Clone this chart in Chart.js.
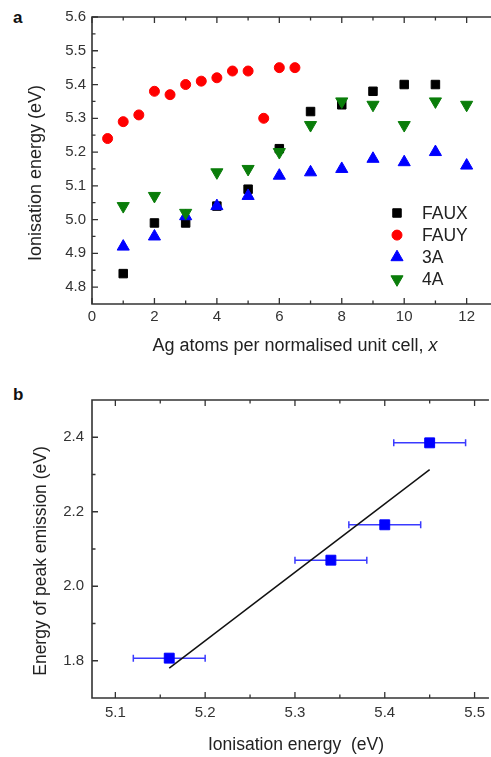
<!DOCTYPE html>
<html lang="en">
<head>
<meta charset="UTF-8">
<title>Ionisation energy</title>
<script src="https://cdn.jsdelivr.net/npm/chart.js@4.4.1/dist/chart.umd.min.js"></script>
<style>
  body { margin: 0; background: #fff; font-family: "Liberation Sans", Arial, sans-serif; }
  .page { position: relative; width: 491px; height: 757px; overflow: hidden; }
  canvas { position: absolute; left: 0; }
  #chartA { top: 0; }
  #chartB { top: 380px; }
  .tag { position: absolute; left: 13px; font-weight: bold; font-size: 17px; line-height: 17px; color: #111; }
</style>
</head>
<body>
<div class="page">
  <div class="tag" style="top:9px">a</div>
  <canvas id="chartA" width="491" height="370"></canvas>
  <div class="tag" style="top:386px">b</div>
  <canvas id="chartB" width="491" height="377"></canvas>
</div>
<script>
// panel a: ionisation energy vs Ag atoms per unit cell
const fauxX = [1, 2, 3, 4, 5, 6, 7, 8, 9, 10, 11];
const fauxIE = [4.84, 4.99, 4.99, 5.04, 5.09, 5.21, 5.32, 5.34, 5.38, 5.40, 5.40];
const fauyX = [0.5, 1, 1.5, 2, 2.5, 3, 3.5, 4, 4.5, 5, 5.5, 6, 6.5];
const fauyIE = [5.24, 5.29, 5.31, 5.38, 5.37, 5.40, 5.41, 5.42, 5.44, 5.44, 5.30, 5.45, 5.45];
const a3X = [1, 2, 3, 4, 5, 6, 7, 8, 9, 10, 11, 12];
const a3IE = [4.92, 4.95, 5.01, 5.04, 5.07, 5.13, 5.14, 5.15, 5.18, 5.17, 5.20, 5.16];
const a4X = [1, 2, 3, 4, 5, 6, 7, 8, 9, 10, 11, 12];
const a4IE = [5.04, 5.07, 5.02, 5.14, 5.15, 5.20, 5.28, 5.35, 5.34, 5.28, 5.35, 5.34];

const aXTicks = [0, 2, 4, 6, 8, 10, 12];
const aXMinor = [1, 3, 5, 7, 9, 11];
const aYTicks = [4.8, 4.9, 5.0, 5.1, 5.2, 5.3, 5.4, 5.5, 5.6];
const aYMinor = [4.85, 4.95, 5.05, 5.15, 5.25, 5.35, 5.45, 5.55];

// panel b: peak emission vs ionisation energy
const ieB = [5.16, 5.34, 5.40, 5.45];
const ieErrB = [0.04, 0.04, 0.04, 0.04];
const peakB = [1.807, 2.07, 2.165, 2.385];
const fitX = [5.16, 5.45];
const fitY = [1.78, 2.313];

const bXTicks = [5.1, 5.2, 5.3, 5.4, 5.5];
const bXMinor = [5.15, 5.25, 5.35, 5.45];
const bYTicks = [1.8, 2.0, 2.2, 2.4];
const bYMinor = [1.9, 2.1, 2.3];

const FONT = '"Liberation Sans", Arial, sans-serif';
Chart.defaults.font.family = FONT;
Chart.defaults.color = '#222';

const pts = (xs, ys) => xs.map((v, i) => ({x: v, y: ys[i]}));

// frame with inward ticks on left, bottom and top
const frame = {
  id: 'frame',
  afterDraw(chart, args, o) {
    const {ctx, chartArea: a, scales: {x, y}} = chart;
    ctx.save();
    ctx.strokeStyle = '#333';
    ctx.lineWidth = 1.6;
    ctx.beginPath();
    ctx.moveTo(a.right, a.top);
    ctx.lineTo(a.left, a.top);
    ctx.lineTo(a.left, a.bottom);
    ctx.lineTo(a.right, a.bottom);
    ctx.stroke();
    ctx.lineWidth = 1.3;
    ctx.beginPath();
    const xMarks = (vals, len) => vals.forEach(v => {
      const p = x.getPixelForValue(v);
      ctx.moveTo(p, a.bottom); ctx.lineTo(p, a.bottom - len);
      ctx.moveTo(p, a.top); ctx.lineTo(p, a.top + len);
    });
    const yMarks = (vals, len) => vals.forEach(v => {
      const p = y.getPixelForValue(v);
      ctx.moveTo(a.left, p); ctx.lineTo(a.left + len, p);
    });
    xMarks(o.xMajor, 6); xMarks(o.xMinor, 3.5);
    yMarks(o.yMajor, 6); yMarks(o.yMinor, 3.5);
    ctx.stroke();
    ctx.restore();
  }
};

// axis titles, x title may have an italic part
const axisTitles = {
  id: 'axisTitles',
  afterDraw(chart, args, o) {
    const ctx = chart.ctx;
    const f = (it) => (it ? 'italic ' : '') + o.size + 'px ' + FONT;
    ctx.save();
    ctx.fillStyle = '#222';
    ctx.textBaseline = 'alphabetic';
    ctx.translate(o.yAt[0], o.yAt[1]);
    ctx.rotate(-Math.PI / 2);
    ctx.textAlign = 'center';
    ctx.font = f(false);
    ctx.fillText(o.yText, 0, 0);
    ctx.restore();

    ctx.save();
    ctx.fillStyle = '#222';
    ctx.textBaseline = 'alphabetic';
    ctx.textAlign = 'left';
    let total = 0;
    o.xParts.forEach(p => { ctx.font = f(p.italic); total += ctx.measureText(p.text).width; });
    let cx = o.xAt[0] - total / 2;
    o.xParts.forEach(p => {
      ctx.font = f(p.italic);
      ctx.fillText(p.text, cx, o.xAt[1]);
      cx += ctx.measureText(p.text).width;
    });
    ctx.restore();
  }
};

// legend inside the plot
const innerLegend = {
  id: 'innerLegend',
  afterDraw(chart, args, o) {
    if (!o.show) return;
    const ctx = chart.ctx;
    chart.data.datasets.forEach((ds, i) => {
      const y = o.top + i * o.gap;
      ctx.save();
      ctx.fillStyle = ds.backgroundColor;
      ctx.strokeStyle = ds.borderColor;
      ctx.lineWidth = ds.pointBorderWidth;
      Chart.helpers.drawPoint(ctx, {
        pointStyle: ds.pointStyle, rotation: ds.pointRotation || 0,
        radius: ds.pointRadius, borderWidth: ds.pointBorderWidth
      }, o.markX, y);
      ctx.restore();
      ctx.save();
      ctx.fillStyle = '#222';
      ctx.font = o.size + 'px ' + FONT;
      ctx.textBaseline = 'middle';
      ctx.fillText(ds.label, o.textX, y + 1);
      ctx.restore();
    });
  }
};

// horizontal error bars
const xErrorBars = {
  id: 'xErrorBars',
  beforeDatasetsDraw(chart, args, o) {
    if (!o.show) return;
    const {ctx, scales: {x, y}} = chart;
    ctx.save();
    ctx.strokeStyle = o.color;
    ctx.lineWidth = o.width;
    chart.data.datasets.forEach(ds => ds.data.forEach(d => {
      if (d.xErr === undefined) return;
      const py = y.getPixelForValue(d.y);
      const x0 = x.getPixelForValue(d.x - d.xErr);
      const x1 = x.getPixelForValue(d.x + d.xErr);
      ctx.beginPath();
      ctx.moveTo(x0, py); ctx.lineTo(x1, py);
      ctx.moveTo(x0, py - 3.5); ctx.lineTo(x0, py + 3.5);
      ctx.moveTo(x1, py - 3.5); ctx.lineTo(x1, py + 3.5);
      ctx.stroke();
    }));
    ctx.restore();
  }
};

function axis(min, max, ticks, pad, size, dec) {
  return {
    type: 'linear', min: min, max: max,
    grid: {display: false, drawTicks: false},
    border: {display: false},
    afterBuildTicks: s => { s.ticks = ticks.map(v => ({value: v})); },
    ticks: {
      padding: pad, color: '#333', font: {size: 15},
      callback: v => v.toFixed(dec)
    }
  };
}

const chartA = new Chart(document.getElementById('chartA'), {
  type: 'scatter',
  data: {
    datasets: [
      {label: 'FAUX', data: pts(fauxX, fauxIE), pointStyle: 'rect', pointRadius: 6,
       backgroundColor: '#000', borderColor: '#000', pointBorderWidth: 1, order: 4},
      {label: 'FAUY', data: pts(fauyX, fauyIE), pointStyle: 'circle', pointRadius: 5,
       backgroundColor: '#ff0000', borderColor: '#ff0000', pointBorderWidth: 1, order: 3},
      {label: '3A', data: pts(a3X, a3IE), pointStyle: 'triangle', pointRadius: 7,
       backgroundColor: '#0000ff', borderColor: '#0000ff', pointBorderWidth: 1, order: 2},
      {label: '4A', data: pts(a4X, a4IE), pointStyle: 'triangle', pointRotation: 180, pointRadius: 7,
       backgroundColor: '#0a7d0a', borderColor: '#0a7d0a', pointBorderWidth: 1, order: 1}
    ]
  },
  options: {
    responsive: false,
    animation: false,
    layout: {autoPadding: false, padding: {top: 17, left: 0, right: 0, bottom: 0}},
    scales: {
      x: Object.assign(axis(0, 12.78, aXTicks, 4, 15, 0), {afterFit: s => { s.height = 66; }}),
      y: Object.assign(axis(4.75, 5.6, aYTicks, 6, 15, 1), {afterFit: s => { s.width = 92; }})
    },
    plugins: {
      legend: {display: false},
      tooltip: {enabled: false},
      frame: {xMajor: aXTicks, xMinor: aXMinor, yMajor: aYTicks, yMinor: aYMinor},
      axisTitles: {
        size: 18, yText: 'Ionisation energy (eV)', yAt: [41, 173],
        xParts: [{text: 'Ag atoms per normalised unit cell, ', italic: false}, {text: 'x', italic: true}],
        xAt: [295, 351]
      },
      innerLegend: {show: true, markX: 397, textX: 422, top: 213, gap: 22.1, size: 17.5},
      xErrorBars: {show: false}
    }
  },
  plugins: [frame, axisTitles, innerLegend, xErrorBars]
});

const chartB = new Chart(document.getElementById('chartB'), {
  type: 'scatter',
  data: {
    datasets: [
      {label: 'samples', data: ieB.map((v, i) => ({x: v, y: peakB[i], xErr: ieErrB[i]})),
       pointStyle: 'rect', pointRadius: 7, backgroundColor: '#0000ff', borderColor: '#0000ff',
       pointBorderWidth: 1, order: 1},
      {label: 'fit', data: pts(fitX, fitY), showLine: true, pointRadius: 0,
       borderColor: '#111', borderWidth: 1.5, order: 2}
    ]
  },
  options: {
    responsive: false,
    animation: false,
    layout: {autoPadding: false, padding: {top: 20, left: 0, right: 0, bottom: 0}},
    scales: {
      x: Object.assign(axis(5.074, 5.516, bXTicks, 6, 15, 1), {afterFit: s => { s.height = 59; }}),
      y: Object.assign(axis(1.70, 2.50, bYTicks, 8, 15, 1), {afterFit: s => { s.width = 92; }})
    },
    plugins: {
      legend: {display: false},
      tooltip: {enabled: false},
      frame: {xMajor: bXTicks, xMinor: bXMinor, yMajor: bYTicks, yMinor: bYMinor},
      axisTitles: {
        size: 17.5, yText: 'Energy of peak emission (eV)', yAt: [46, 181],
        xParts: [{text: 'Ionisation energy  (eV)', italic: false}],
        xAt: [296, 370]
      },
      innerLegend: {show: false},
      xErrorBars: {show: true, color: '#3a3aff', width: 1.5}
    }
  },
  plugins: [frame, axisTitles, innerLegend, xErrorBars]
});
</script>
</body>
</html>
